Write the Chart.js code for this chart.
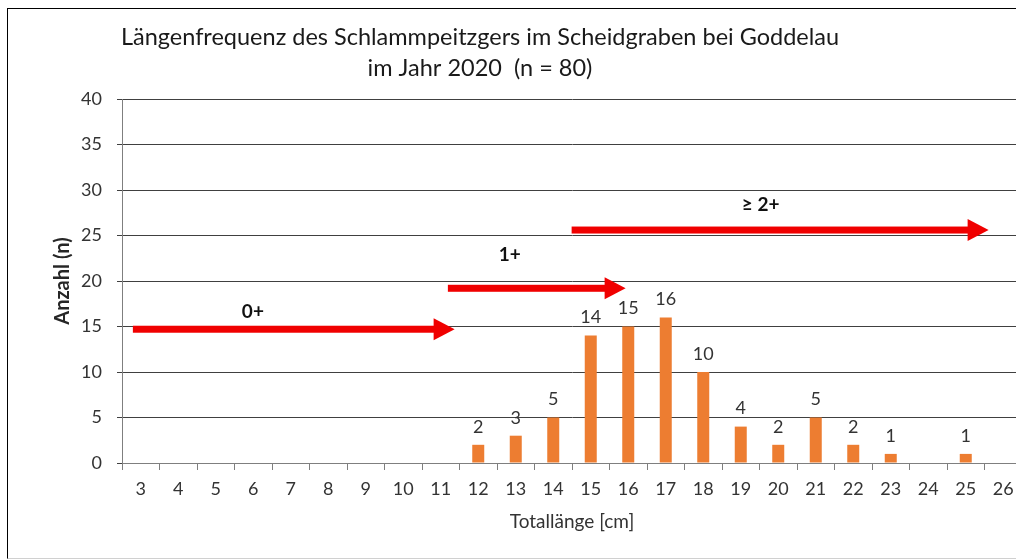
<!DOCTYPE html>
<html lang="de">
<head>
<meta charset="utf-8">
<title>Längenfrequenz Schlammpeitzger</title>
<script src="https://cdn.jsdelivr.net/npm/chart.js@4.4.1/dist/chart.umd.min.js"></script>
<style>
  html, body { margin: 0; padding: 0; background: #fff; overflow: hidden; }
  #wrap { position: relative; width: 1016px; height: 560px; overflow: hidden; }
  #box { position: absolute; left: 0; top: 0; width: 1040px; height: 560px; }
  #frame { position: absolute; left: 7px; top: 8px; width: 1100px; height: 549px;
           border-left: 1px solid #000; border-top: 1px solid #000; border-bottom: 1px solid #d0d0d0;
           pointer-events: none; }
</style>
</head>
<body>
<div id="wrap">
  <div id="box"><canvas id="chart-length"></canvas></div>
  <div id="frame"></div>
</div>
<script>
// Totallänge in cm (Klassen) und Anzahl Fische je Klasse
const lengthClasses = ['3', '4', '5', '6', '7', '8', '9', '10', '11', '12', '13', '14', '15',
  '16', '17', '18', '19', '20', '21', '22', '23', '24', '25', '26'];
const fishCounts = [0, 0, 0, 0, 0, 0, 0, 0, 0, 2, 3, 5, 14, 15, 16, 10, 4, 2, 5, 2, 1, 0, 1, 0];
const yTicks = [0, 5, 10, 15, 20, 25, 30, 35, 40];

// Altersgruppen-Pfeile (cm / Anzahl)
const ageGroups = ['0+', '1+', '≥ 2+'];
const arrowFromCm = [2.79, 11.19, 14.49];
const arrowToCm = [11.37, 15.93, 25.61];
const arrowAtN = [14.7, 19.2, 25.6];
const ageLabelCm = [5.99, 12.84, 19.53];
const ageLabelN = [16.6, 22.9, 28.35];

const TITLE_LINES = ['Längenfrequenz des Schlammpeitzgers im Scheidgraben bei Goddelau', 'im Jahr 2020  (n = 80)'];
const FONT = 'Lato, "Open Sans", sans-serif';

const cmToIndex = cm => cm - Number(lengthClasses[0]);

const titlePlugin = {
  id: 'twoLineTitle',
  afterDraw(chart) {
    const { ctx } = chart;
    ctx.save();
    ctx.fillStyle = '#1a1a1a';
    ctx.font = `23.5px ${FONT}`;
    ctx.textAlign = 'center';
    ctx.textBaseline = 'middle';
    ctx.fillText(TITLE_LINES[0], 480, 37);
    ctx.fillText(TITLE_LINES[1], 480, 68);
    ctx.restore();
  }
};

const barLabelsPlugin = {
  id: 'barLabels',
  afterDatasetsDraw(chart) {
    const { ctx } = chart;
    const meta = chart.getDatasetMeta(0);
    ctx.save();
    ctx.fillStyle = '#333333';
    ctx.font = `18px ${FONT}`;
    ctx.textAlign = 'center';
    ctx.textBaseline = 'bottom';
    meta.data.forEach((bar, i) => {
      const v = fishCounts[i];
      if (!v) return;
      ctx.fillText(String(v), bar.x, bar.y - 9);
    });
    ctx.restore();
  }
};

const ageArrowsPlugin = {
  id: 'ageArrows',
  afterDatasetsDraw(chart) {
    const { ctx, scales: { x, y } } = chart;
    const shaft = 7, headLen = 21, headHalf = 11;
    ctx.save();
    ageGroups.forEach((label, i) => {
      const x0 = x.getPixelForValue(cmToIndex(arrowFromCm[i]));
      const x1 = x.getPixelForValue(cmToIndex(arrowToCm[i]));
      const yy = y.getPixelForValue(arrowAtN[i]);
      ctx.fillStyle = '#f00000';
      ctx.fillRect(x0, yy - shaft / 2, x1 - headLen - x0 + 1, shaft);
      ctx.beginPath();
      ctx.moveTo(x1 - headLen, yy - headHalf);
      ctx.lineTo(x1, yy);
      ctx.lineTo(x1 - headLen, yy + headHalf);
      ctx.closePath();
      ctx.fill();

      ctx.fillStyle = '#111';
      ctx.font = `bold 19px ${FONT}`;
      ctx.textAlign = 'center';
      ctx.textBaseline = 'middle';
      ctx.fillText(label, x.getPixelForValue(cmToIndex(ageLabelCm[i])), y.getPixelForValue(ageLabelN[i]));
    });
    ctx.restore();
  }
};

new Chart(document.getElementById('chart-length'), {
  type: 'bar',
  plugins: [titlePlugin, barLabelsPlugin, ageArrowsPlugin],
  data: {
    labels: lengthClasses,
    datasets: [{
      data: fishCounts,
      backgroundColor: '#ed7d31',
      borderWidth: 0,
      categoryPercentage: 1,
      barPercentage: 0.32,
    }]
  },
  options: {
    responsive: true, maintainAspectRatio: false,
    animation: false,
    layout: { padding: { top: 99, right: 18, bottom: 0, left: 0 } },
    plugins: { legend: { display: false }, tooltip: { enabled: false }, title: { display: false } },
    scales: {
      x: {
        type: 'category',
        offset: true,
        afterFit: s => { s.height = 97; },
        grid: { offset: true, drawOnChartArea: false, drawTicks: true, tickLength: 7, color: '#7f7f7f' },
        border: { display: true, color: '#7f7f7f', width: 1 },
        ticks: { color: '#333333', font: { family: FONT, size: 18 }, padding: 8, maxRotation: 0, autoSkip: false },
        title: { display: true, text: 'Totallänge [cm]', color: '#333333',
                 font: { family: FONT, size: 19, lineHeight: 1.2 }, padding: { top: 0, bottom: 27 } },
      },
      y: {
        min: 0, max: 40,
        afterFit: s => { s.width = 122; },
        afterBuildTicks: s => { s.ticks = yTicks.map(v => ({ value: v })); },
        grid: { color: '#404040', lineWidth: 1, tickLength: 5, drawTicks: true },
        border: { display: true, color: '#7f7f7f', width: 1 },
        ticks: { color: '#333333', font: { family: FONT, size: 18 }, padding: 15 },
        title: { display: true, text: 'Anzahl (n)', color: '#262626',
                 font: { family: FONT, size: 20, weight: 'bold', lineHeight: 1.2 }, padding: { top: 51, bottom: 0 } },
      }
    }
  }
});
</script>
</body>
</html>
